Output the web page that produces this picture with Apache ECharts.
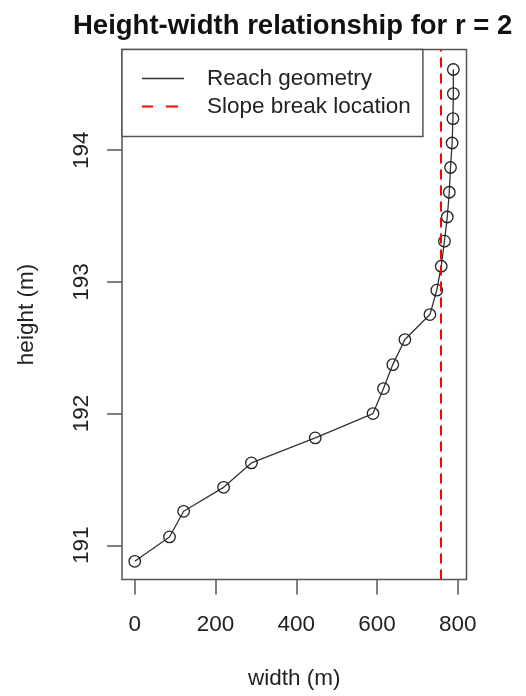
<!DOCTYPE html>
<html>
<head>
<meta charset="utf-8">
<script src="https://cdn.jsdelivr.net/npm/echarts@6/dist/echarts.min.js"></script>
<style>
  html, body { margin: 0; padding: 0; background: #fff; }
  #chart { width: 526px; height: 696px; }
</style>
</head>
<body>
<div id="chart"></div>
<script>
// Reach geometry: channel width (m) at each surveyed height (m)
const widths = [0, 86, 121, 220, 289, 447, 590, 616, 639, 669, 731, 748, 759, 767, 774, 779, 782, 786, 788, 789, 789];
const heights = [190.878, 191.063, 191.258, 191.440, 191.625, 191.815, 192.000, 192.190, 192.372, 192.562,
                 192.752, 192.937, 193.119, 193.309, 193.493, 193.681, 193.869, 194.055, 194.240, 194.430, 194.613];
// Width at which the slope of the height-width curve breaks
const slopeBreak = 758;
const xTicks = [0, 200, 400, 600, 800];
const yTicks = [191, 192, 193, 194];

const FONT = "'Liberation Sans', Arial, Helvetica, sans-serif";
const ink = '#222';
const frame = '#555';

const geometry = widths.map((w, i) => [w, heights[i]]);

const chart = echarts.init(document.getElementById('chart'), null, { renderer: 'canvas' });
chart.setOption({
  backgroundColor: '#fff',
  animation: false,
  title: {
    text: 'Height-width relationship for r = 2',
    left: 73,
    top: 12,
    padding: 0,
    textStyle: { fontFamily: FONT, fontSize: 27.5, fontWeight: 'bold', color: '#111' }
  },
  legend: {
    left: 122,
    top: 49.5,
    orient: 'vertical',
    padding: [17, 12, 18, 20],
    itemGap: 4,
    itemWidth: 42,
    itemHeight: 2,
    borderColor: frame,
    borderWidth: 1.5,
    borderRadius: 0,
    backgroundColor: '#fff',
    textStyle: { fontFamily: FONT, fontSize: 22.5, color: ink, lineHeight: 24, padding: [0, 0, 0, 18] },
    data: [
      {
        name: 'Reach geometry',
        icon: 'path://M0,0h42v1.4h-42z M0,-0.3L0,1.7',
        itemStyle: { color: '#333', borderWidth: 0 }
      },
      {
        name: 'Slope break location',
        icon: 'path://M0,0h11v2h-11z M24,0h12v2h-12z M42,0L42,2',
        itemStyle: { color: '#ff0000', borderWidth: 0 }
      }
    ]
  },
  grid: {
    left: 122, right: 59.5, top: 49.5, bottom: 116.5,
    show: true, borderColor: frame, borderWidth: 1.5, backgroundColor: 'transparent'
  },
  xAxis: {
    type: 'value',
    min: -31.6, max: 821.6,
    name: 'width (m)',
    nameLocation: 'middle',
    nameGap: 88,
    nameTextStyle: { fontFamily: FONT, fontSize: 22.5, color: ink },
    axisLine: { show: false, onZero: false },
    splitLine: { show: false },
    axisTick: { show: true, inside: false, length: 15, customValues: xTicks, lineStyle: { color: frame, width: 1.5 } },
    axisLabel: { customValues: xTicks, margin: 34, fontFamily: FONT, fontSize: 22.5, color: ink }
  },
  yAxis: {
    type: 'value',
    min: 190.74, max: 194.765,
    name: 'height (m)',
    nameLocation: 'middle',
    nameRotate: 90,
    nameGap: 84,
    nameTextStyle: { fontFamily: FONT, fontSize: 22.5, color: ink },
    axisLine: { show: false, onZero: false },
    splitLine: { show: false },
    axisTick: { show: true, inside: false, length: 15, customValues: yTicks, lineStyle: { color: frame, width: 1.5 } },
    axisLabel: { customValues: yTicks, rotate: 90, margin: 29, fontFamily: FONT, fontSize: 22.5, color: ink }
  },
  series: [
    {
      name: 'Reach geometry',
      type: 'line',
      data: geometry,
      symbol: 'circle',
      symbolSize: 11.5,
      showSymbol: true,
      lineStyle: { color: '#333', width: 1.3 },
      itemStyle: { color: 'rgba(0,0,0,0)', borderColor: '#222', borderWidth: 1.3 },
      emphasis: { disabled: true },
      z: 3
    },
    {
      name: 'Slope break location',
      type: 'line',
      data: [],
      markLine: {
        symbol: 'none',
        silent: true,
        label: { show: false },
        lineStyle: { color: '#ff0000', width: 2, type: [10, 6] },
        data: [{ xAxis: slopeBreak }]
      },
      z: 2
    }
  ]
});
</script>
</body>
</html>
